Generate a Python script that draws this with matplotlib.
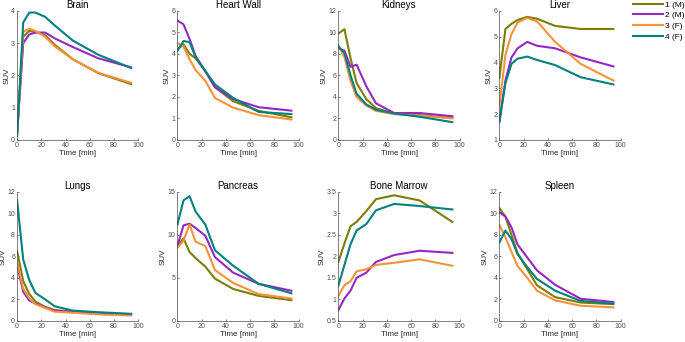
import matplotlib.pyplot as plt
import numpy as np

# time points [min]
t = [0, 5, 10, 15, 23, 31, 46, 67, 94]

series_names = ['1 (M)', '2 (M)', '3 (F)', '4 (F)']
colors = ['#7b7f00', '#9627c4', '#f7923a', '#00817f']

brain = [
    [0.2, 3.2, 3.38, 3.35, 3.25, 2.95, 2.5, 2.07, 1.73],
    [0.2, 3.0, 3.27, 3.33, 3.33, 3.15, 2.88, 2.53, 2.25],
    [0.25, 3.35, 3.45, 3.38, 3.2, 2.9, 2.5, 2.08, 1.77],
    [0.12, 3.64, 3.95, 3.95, 3.82, 3.55, 3.08, 2.64, 2.23],
]
heart = [
    [4.2, 4.45, 4.0, 3.8, 3.2, 2.45, 1.8, 1.35, 1.05],
    [5.55, 5.38, 4.7, 3.9, 3.2, 2.45, 1.9, 1.52, 1.36],
    [4.5, 4.35, 3.75, 3.25, 2.75, 1.95, 1.5, 1.15, 0.95],
    [4.15, 4.6, 4.55, 3.85, 3.2, 2.58, 1.95, 1.3, 1.2],
]
kidneys = [
    [9.9, 10.3, 7.6, 5.3, 3.8, 2.95, 2.45, 2.3, 2.05],
    [8.5, 8.3, 6.8, 7.0, 5.0, 3.4, 2.5, 2.5, 2.2],
    [8.8, 7.7, 5.5, 4.0, 3.2, 2.7, 2.4, 2.25, 2.0],
    [8.7, 8.1, 6.0, 4.3, 3.3, 2.8, 2.45, 2.15, 1.65],
]
liver = [
    [3.4, 5.3, 5.5, 5.65, 5.77, 5.7, 5.42, 5.3, 5.3],
    [1.7, 3.3, 4.2, 4.55, 4.8, 4.65, 4.55, 4.2, 3.85],
    [2.3, 4.3, 5.1, 5.55, 5.73, 5.6, 4.8, 3.95, 3.3],
    [1.7, 3.2, 3.95, 4.15, 4.23, 4.1, 3.9, 3.43, 3.15],
]
lungs = [
    [6.5, 3.7, 2.5, 1.8, 1.3, 1.0, 0.85, 0.7, 0.6],
    [5.2, 2.7, 1.9, 1.6, 1.25, 0.95, 0.8, 0.65, 0.55],
    [5.5, 3.0, 2.1, 1.55, 1.2, 0.85, 0.75, 0.6, 0.5],
    [11.2, 5.7, 3.8, 2.6, 2.0, 1.35, 0.95, 0.8, 0.65],
]
pancreas = [
    [8.7, 9.6, 8.0, 7.3, 6.3, 4.9, 3.7, 2.9, 2.4],
    [8.7, 11.1, 11.3, 10.8, 9.9, 7.4, 5.6, 4.3, 3.5],
    [8.5, 9.3, 11.2, 9.2, 8.7, 5.9, 4.4, 3.1, 2.6],
    [11.2, 14.0, 14.5, 12.7, 11.2, 8.2, 6.4, 4.3, 3.2],
]
marrow = [
    [1.87, 2.3, 2.7, 2.8, 3.05, 3.33, 3.42, 3.3, 2.8],
    [0.75, 1.02, 1.2, 1.5, 1.62, 1.87, 2.03, 2.13, 2.08],
    [1.08, 1.33, 1.42, 1.65, 1.7, 1.8, 1.85, 1.93, 1.78],
    [1.32, 1.8, 2.28, 2.6, 2.75, 3.07, 3.22, 3.17, 3.09],
]
spleen = [
    [10.5, 9.7, 8.0, 6.3, 4.8, 3.3, 2.2, 1.7, 1.55],
    [10.1, 9.7, 8.7, 7.1, 5.9, 4.7, 3.35, 2.05, 1.75],
    [8.9, 7.8, 6.4, 5.1, 4.0, 2.8, 1.9, 1.4, 1.25],
    [7.3, 8.4, 7.6, 6.2, 5.0, 3.9, 2.8, 1.85, 1.6],
]

panels = [
    ('Brain', brain, (0, 4), [0, 1, 2, 3, 4]),
    ('Heart Wall', heart, (0, 6), [0, 1, 2, 3, 4, 5, 6]),
    ('Kidneys', kidneys, (0, 12), [0, 2, 4, 6, 8, 10, 12]),
    ('Liver', liver, (1, 6), [1, 2, 3, 4, 5, 6]),
    ('Lungs', lungs, (0, 12), [0, 2, 4, 6, 8, 10, 12]),
    ('Pancreas', pancreas, (0, 15), [0, 5, 10, 15]),
    ('Bone Marrow', marrow, (0.5, 3.5), [0.5, 1, 1.5, 2, 2.5, 3, 3.5]),
    ('Spleen', spleen, (0, 12), [0, 2, 4, 6, 8, 10, 12]),
]

plt.rcParams['font.family'] = ['Liberation Sans', 'DejaVu Sans']
axcol = '#4d4d4d'

fig = plt.figure(figsize=(6.85, 3.42), dpi=100)
lefts = [0.025, 0.259, 0.494, 0.729]
bottoms = [0.591, 0.062]
w, h = 0.177, 0.377

lines = []
for i, (name, data, ylim, yticks) in enumerate(panels):
    ax = fig.add_axes([lefts[i % 4], bottoms[i // 4], w, h])
    for j, vals in enumerate(data):
        ln, = ax.plot(t, vals, color=colors[j], lw=1.5)
        if i == 0:
            lines.append(ln)
    ax.set_xlim(0, 100)
    ax.set_ylim(*ylim)
    ax.set_xticks([0, 20, 40, 60, 80, 100])
    ax.set_yticks(yticks)
    ax.set_yticklabels([f'{v:g}' for v in yticks])
    ax.set_title(name, fontsize=7, pad=2, color='black')
    ax.set_xlabel('Time [min]', fontsize=5.8, labelpad=1, color='#262626')
    ax.set_ylabel('SUV', fontsize=5.8, labelpad=0.5, color='#262626')
    ax.spines['top'].set_visible(False)
    ax.spines['right'].set_visible(False)
    for s in ('left', 'bottom'):
        ax.spines[s].set_color(axcol)
        ax.spines[s].set_linewidth(0.5)
    ax.tick_params(labelsize=5, colors=axcol, direction='in', length=1.5, width=0.5, pad=1.5)

fig.legend(lines, series_names, loc='upper left', bbox_to_anchor=(0.924, 0.998),
           frameon=False, fontsize=6, handlelength=3.6, handletextpad=0.3,
           labelspacing=0.35, borderaxespad=0, borderpad=0)

fig.savefig('out.png', dpi=100)
